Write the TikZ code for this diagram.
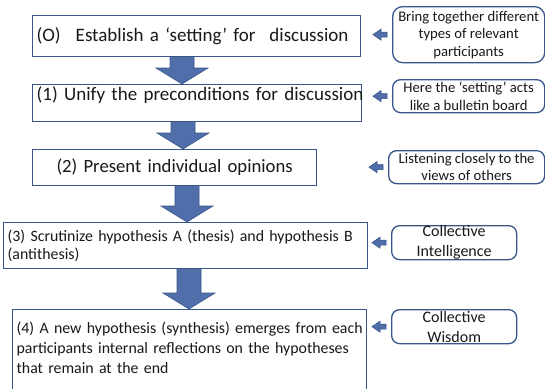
\documentclass[tikz,border=0pt]{standalone}
\usepackage{fontspec}
\setmainfont{Carlito}
\usepackage{tikz}
\definecolor{boxline}{RGB}{56,86,140}
\definecolor{arrowfill}{RGB}{79,110,170}
\definecolor{inktext}{RGB}{25,25,25}

\begin{document}
\begin{tikzpicture}[x=1pt, y=-1pt,
    stage/.style={draw=boxline, line width=1.3pt, anchor=north west, inner xsep=4pt, inner ysep=0pt, align=left, text=inktext},
    note/.style={draw=boxline, line width=1.3pt, rounded corners=8pt, anchor=north west, inner sep=0pt, align=center, text=inktext},
    bigfont/.style={font=\fontsize{#1}{23}\selectfont},
    midfont/.style={font=\fontsize{15.85}{#1}\selectfont},
    smallfont/.style={font=\fontsize{14.7}{17.5}\selectfont},
    notefont/.style={font=\fontsize{16}{20}\selectfont},
    flowarrow/.style={fill=arrowfill, draw=boxline, line width=0.6pt, line join=miter,
        to path={([xshift=-12pt]\tikztostart) -- ([xshift=12pt]\tikztostart)
            -- ([xshift=12pt,yshift=16pt]\tikztotarget) -- ([xshift=26pt,yshift=16pt]\tikztotarget)
            -- (\tikztotarget) -- ([xshift=-26pt,yshift=16pt]\tikztotarget)
            -- ([xshift=-12pt,yshift=16pt]\tikztotarget) -- cycle}},
    hintarrow/.style={fill=arrowfill, draw=boxline, line width=0.6pt,
        to path={([xshift=-5pt,yshift=2.5pt]\tikztostart) -- ++(-6pt,0pt) -- ++(0pt,3pt)
            -- ++(-8pt,-5.5pt) -- ++(8pt,-5.5pt) -- ++(0pt,3pt) -- ++(6pt,0pt) -- cycle}}
]
\useasboundingbox (0,0) rectangle (545,388);
\fill[white] (0,0) rectangle (545,388);

% the five stages
\node[stage, bigfont=19, text width=320pt, minimum height=41pt] (setting) at (32,15)
    {\mbox{(O)\hspace{15pt}Establish a ‘setting’ for\hspace{14pt}discussion}};
\node[stage, bigfont=19, text width=321pt, text height=13pt, text depth=18pt, inner ysep=3pt] (unify) at (32,84)
    {\mbox{(1) Unify the preconditions for discussion}};
\node[stage, bigfont=18.7, text width=276pt, minimum height=36pt, align=center] (present) at (32,149)
    {\mbox{(2) Present individual opinions}};
\node[stage, midfont=18, text width=356pt, minimum height=46pt] (scrutinize) at (3,222)
    {\mbox{(3) Scrutinize hypothesis A (thesis) and hypothesis B}\\(antithesis)};
\node[stage, midfont=20, text width=346pt, text height=13.5pt, text depth=50pt, inner ysep=10pt] (synthesis) at (12,309)
    {\mbox{(4) A new hypothesis (synthesis) emerges from each}\\
     \mbox{participants internal reflections on the hypotheses}\\that remain at the end};

% notes on the right
\node[note, smallfont, rounded corners=10pt, minimum width=152pt, minimum height=56pt] (gather) at (392,6)
    {Bring together different\\types of relevant\\participants};
\node[note, smallfont, minimum width=152pt, minimum height=33pt] (board) at (392,79)
    {Here the ‘setting’ acts\\like a bulletin board};
\node[note, smallfont, minimum width=156pt, minimum height=33pt] (listen) at (388,150)
    {Listening closely to the\\views of others};
\node[note, notefont, minimum width=125pt, minimum height=34pt] (intel) at (391,225)
    {Collective\\Intelligence};
\node[note, notefont, minimum width=125pt, minimum height=34pt] (wisdom) at (391,309)
    {Collective\\Wisdom};

% big arrows down the stages
\draw[flowarrow] (setting.south -| 182,0) to (unify.north -| 182,0);
\draw[flowarrow] (unify.south -| 183,0) to (present.north -| 183,0);
\draw[flowarrow] (present.south -| 187,0) to (scrutinize.north -| 187,0);
\draw[flowarrow] (scrutinize.south -| 189,0) to (synthesis.north -| 189,0);

% small arrows from the notes
\draw[hintarrow] (gather.west) to (setting.east);
\draw[hintarrow] (board.west) to (unify.east);
\draw[hintarrow] (listen.west) to (present.east);
\draw[hintarrow] (intel.west) to (scrutinize.east);
\draw[hintarrow] (wisdom.west) to (synthesis.east);
\end{tikzpicture}
\end{document}
